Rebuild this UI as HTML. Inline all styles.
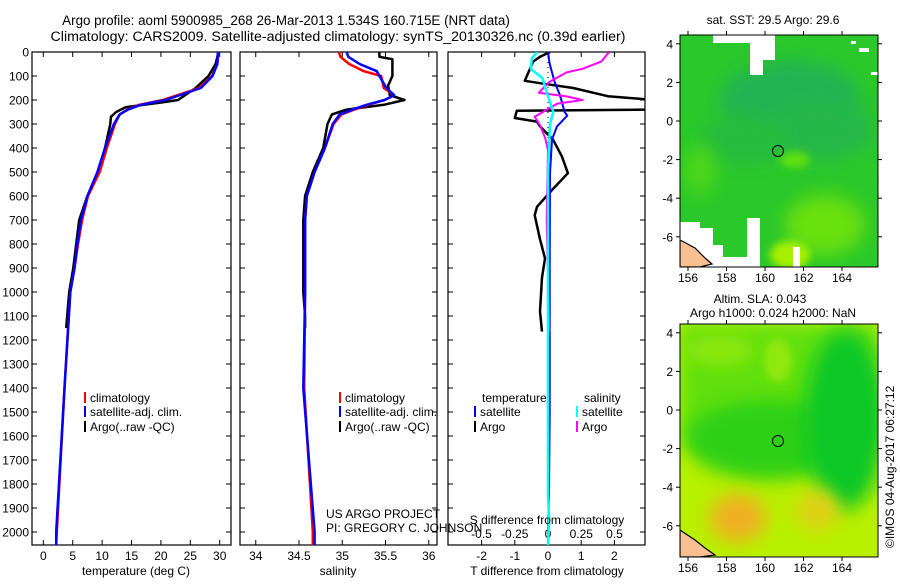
<!DOCTYPE html>
<html><head><meta charset="utf-8"><style>
html,body{margin:0;padding:0;background:#fff;}
svg text{font-family:"Liberation Sans",sans-serif;fill:#000;}
</style></head><body>
<svg id="s" width="900" height="580" viewBox="0 0 900 580" xmlns="http://www.w3.org/2000/svg">
<defs>
<filter id="bl" x="-50%" y="-50%" width="200%" height="200%"><feGaussianBlur stdDeviation="9"/></filter>
<filter id="bl2" x="-50%" y="-50%" width="200%" height="200%"><feGaussianBlur stdDeviation="4"/></filter>
<clipPath id="c1"><rect x="32" y="52" width="199" height="493"/></clipPath>
<clipPath id="c2"><rect x="240" y="52" width="197" height="493"/></clipPath>
<clipPath id="c3"><rect x="448" y="52" width="197" height="493"/></clipPath>
<clipPath id="m1"><rect x="680" y="35" width="198" height="232"/></clipPath>
<clipPath id="m2"><rect x="680" y="324" width="198" height="233"/></clipPath>
</defs>
<text x="286" y="25" font-size="13.4" text-anchor="middle">Argo profile: aoml 5900985_268 26-Mar-2013 1.534S 160.715E (NRT data)</text>
<text x="338" y="41" font-size="14.2" text-anchor="middle">Climatology: CARS2009. Satellite-adjusted climatology: synTS_20130326.nc (0.39d earlier)</text>

<!-- maps -->
<g>
<g clip-path="url(#m1)">
<rect x="680" y="35" width="198" height="232" fill="#2ac82a"/>
<ellipse cx="790" cy="100" rx="70" ry="40" fill="#22b452" filter="url(#bl)"/>
<ellipse cx="820" cy="130" rx="55" ry="30" fill="#25b74a" filter="url(#bl)"/>
<ellipse cx="745" cy="140" rx="45" ry="25" fill="#28bb3e" filter="url(#bl)"/>
<ellipse cx="825" cy="225" rx="40" ry="30" fill="#6ae010" filter="url(#bl)"/>
<ellipse cx="790" cy="255" rx="20" ry="14" fill="#a8f000" filter="url(#bl2)"/>
<ellipse cx="700" cy="170" rx="15" ry="25" fill="#50d818" filter="url(#bl)"/>
<ellipse cx="795" cy="160" rx="15" ry="8" fill="#60e010" filter="url(#bl2)"/>
<path d="M713,35 H775 V60 H763 V75 H750 V43 H728 V43 H713Z" fill="#fff"/>
<rect x="851" y="41" width="5" height="3" fill="#fff"/><rect x="859" y="48" width="10" height="4" fill="#fff"/><rect x="871" y="72" width="7" height="3" fill="#fff"/>
<path d="M680,222 H700 V228 H713 V245 H723 V257 H750 V267 H680Z" fill="#fff"/>
<path d="M747,218 H760 V267 H747Z" fill="#fff"/>
<path d="M793,247 H800 V267 H793Z" fill="#fff"/>
<path d="M680,240 L695,248 L705,258 L712,264 L700,267 L680,267Z" fill="#f8c090" stroke="#000" stroke-width="1.2"/>
<circle cx="778" cy="151" r="5.5" fill="none" stroke="#000" stroke-width="1"/>
</g>
<rect x="680" y="35" width="198" height="232" fill="none" stroke="#000" stroke-width="1"/>
</g>
<g>
<g clip-path="url(#m2)">
<rect x="680" y="324" width="198" height="233" fill="#b8f000"/>
<rect x="680" y="324" width="198" height="120" fill="#60e010" filter="url(#bl)"/>
<ellipse cx="770" cy="440" rx="85" ry="40" fill="#2ed018" filter="url(#bl)"/>
<ellipse cx="845" cy="420" rx="40" ry="90" fill="#10c828" filter="url(#bl)"/>
<ellipse cx="778" cy="360" rx="14" ry="22" fill="#90e810" filter="url(#bl2)"/>
<ellipse cx="720" cy="350" rx="35" ry="15" fill="#90e810" filter="url(#bl)"/>
<ellipse cx="738" cy="518" rx="28" ry="24" fill="#f0b020" filter="url(#bl)"/>
<ellipse cx="818" cy="510" rx="22" ry="20" fill="#e0d018" filter="url(#bl)"/>
<path d="M680,530 L695,540 L705,548 L715,555 L700,557 L680,557Z" fill="#f8c090" stroke="#000" stroke-width="1.2"/>
<circle cx="778" cy="441" r="5.5" fill="none" stroke="#000" stroke-width="1"/>
</g>
<rect x="680" y="324" width="198" height="233" fill="none" stroke="#000" stroke-width="1"/>
</g>
<text x="773" y="24" font-size="12" text-anchor="middle">sat. SST: 29.5 Argo: 29.6</text>
<text x="760" y="303" font-size="12" text-anchor="middle">Altim. SLA: 0.043</text>
<text x="773" y="317" font-size="12" text-anchor="middle">Argo h1000: 0.024 h2000: NaN</text>
<text transform="translate(894,548) rotate(-90)" font-size="12">©IMOS 04-Aug-2017 06:27:12</text>
<g id="maxes"></g>

<g id="p1"></g>
<g id="p2"></g>
<g id="p3"></g>

<text x="136" y="575" font-size="12" text-anchor="middle">temperature (deg C)</text>
<text x="338" y="575" font-size="12" text-anchor="middle">salinity</text>
<text x="547" y="575" font-size="12" text-anchor="middle">T difference from climatology</text>
<text x="547" y="524" font-size="12" text-anchor="middle">S difference from climatology</text>
<text x="326" y="518" font-size="12">US ARGO PROJECT</text>
<text x="326" y="532" font-size="12">PI: GREGORY C. JOHNSON</text>
</svg>
<script>
// depths & series
const tDepth=[0,50,100,150,200,220,240,260,300,400,500,600,700,800,900,1000,1400,2000,2054];
const tClim=[29.8,29.6,28.7,26.5,20.3,16.3,14.3,13.0,12.2,10.8,9.6,7.6,6.6,5.9,5.3,4.6,3.6,2.3,2.2];
const tSat=[29.7,29.6,28.8,26.8,20.8,16.6,14.4,13.0,12.0,10.5,9.2,7.5,6.4,5.8,5.3,4.6,3.6,2.2,2.2];
const aDepth=[0,50,100,150,200,210,230,250,270,300,400,450,500,550,600,700,800,900,1000,1150];
const tArgo=[29.8,29.3,28.1,25.9,22.9,20.2,14.0,12.4,11.5,11.4,10.5,10.0,9.3,8.5,7.5,6.1,5.6,5.1,4.4,3.9];
const sDepth=[0,20,50,80,100,150,180,200,220,240,260,300,400,500,600,700,1000,1400,2000,2054];
const sClim=[34.96,34.98,35.08,35.25,35.45,35.48,35.6,35.49,35.3,35.14,34.99,34.9,34.8,34.68,34.59,34.57,34.57,34.56,34.66,34.66];
const sSat=[35.05,35.07,35.2,35.4,35.43,35.51,35.6,35.49,35.28,35.12,34.97,34.89,34.8,34.68,34.59,34.57,34.57,34.55,34.68,34.68];
const sArgo=[35.43,35.43,35.58,35.58,35.58,35.53,35.55,35.72,35.48,35.05,34.88,34.83,34.78,34.66,34.57,34.55,34.55,34.55,34.57,34.57];
const sArgoDepth=[0,20,30,50,100,140,180,200,220,240,260,300,400,500,600,700,900,1000,1100,1150];
const dTDepth=[0,50,100,125,180,250,265,310,365,505,900,1500,1830,2054];
const dTSat=[0,0.05,0.15,0.2,0.36,0.5,0.58,0.27,0.12,0.06,0.05,0.05,0.03,0];
const dADepth=[0,20,40,120,130,150,184,200,240,245,275,290,310,365,435,505,575,645,680,780,860,940,1080,1165];
const dTArgo=[0.06,-0.24,-0.45,-0.7,-0.24,0.76,1.8,3.2,3.2,-0.94,-1.0,-0.33,-0.24,0.15,0.42,0.6,0.12,-0.33,-0.4,-0.24,-0.09,-0.18,-0.24,-0.18];
const dSADepth=[0,40,70,85,125,170,185,200,215,270,305,360,410,700,1165];
const dSArgo=[0.46,0.4,0.26,0.14,0.01,-0.07,0.14,0.26,0.07,-0.1,-0.06,-0.02,0.0,-0.01,0.01];
const dSSDepth=[0,25,70,110,150,250,300,500,1850,1950,2054];
const dSSat=[-0.08,-0.12,-0.13,-0.04,-0.02,0.04,0.015,0,0,0.01,0];
const depthTicks=[0,100,200,300,400,500,600,700,800,900,1000,1100,1200,1300,1400,1500,1600,1700,1800,1900,2000];
const tTicks=[0,5,10,15,20,25,30];
const sTicks=[34,34.5,35,35.5,36];
const sTickLabels=["34","34.5","35","35.5","36"];
const dTTicks=[-2,-1,0,1,2];
const dSTicks=[-0.5,-0.25,0,0.25,0.5];
const dSTickLabels=["-0.5","-0.25","0","0.25","0.5"];
const lonTicks=[156,158,160,162,164];
const latTicks=[4,2,0,-2,-4,-6];

const NS='http://www.w3.org/2000/svg';
function mk(p,tag,at){const e=document.createElementNS(NS,tag);for(const k in at)e.setAttribute(k,at[k]);p.appendChild(e);return e;}
const yD=d=>52+d*0.24;
const xT=v=>43.3+v*5.88;
const xS=v=>299+(v-34.5)*86.5;
const xDT=v=>548+v*33.2;
const xDS=v=>548+v*133;

function line(g,xs,ds,fx,col,w,clip,name){
  const pts=xs.map((v,i)=>fx(v).toFixed(1)+','+yD(ds[i]).toFixed(1)).join(' ');
  const e=mk(g,'polyline',{points:pts,fill:'none',stroke:col,'stroke-width':w,'clip-path':'url(#'+clip+')','stroke-linejoin':'round'});
  
  
}
function frame(g,x0,x1,ticks,fx,labels,leftLabels){
  mk(g,'rect',{x:x0,y:52,width:x1-x0,height:493,fill:'none',stroke:'#000','stroke-width':1.2});
  depthTicks.forEach(d=>{
    const y=yD(d);
    mk(g,'line',{x1:x0,y1:y,x2:x0+5,y2:y,stroke:'#000'});
    mk(g,'line',{x1:x1-5,y1:y,x2:x1,y2:y,stroke:'#000'});
    if(leftLabels){const t=mk(g,'text',{x:x0-3,y:y+4.5,'font-size':12,'text-anchor':'end'});t.textContent=d;
      
      }
  });
  ticks.forEach((v,i)=>{
    const x=fx(v);
    mk(g,'line',{x1:x,y1:545,x2:x,y2:540,stroke:'#000'});
    mk(g,'line',{x1:x,y1:52,x2:x,y2:57,stroke:'#000'});
    if(labels){const t=mk(g,'text',{x:x,y:560,'font-size':12,'text-anchor':'middle'});t.textContent=labels[i];
      
      }
  });
}
function legend(g,x,y,col,txt){
  mk(g,'rect',{x:x,y:y-10,width:2,height:11,fill:col});
  const t=mk(g,'text',{x:x+6,y:y,'font-size':12});t.textContent=txt;
  
  
}
const p1=document.getElementById('p1'),p2=document.getElementById('p2'),p3=document.getElementById('p3');
frame(p1,32,231,tTicks,xT,tTicks,true);
line(p1,tArgo,aDepth,xT,'#000',2.5,'c1','temperature-argo-line');
line(p1,tClim,tDepth,xT,'#f00',2.5,'c1','temperature-climatology-line');
line(p1,tSat,tDepth,xT,'#00f',2.5,'c1','temperature-satellite-line');
legend(p1,84,402,'#f00','climatology');legend(p1,84,416,'#00f','satellite-adj. clim.');legend(p1,84,431,'#000','Argo(..raw -QC)');

frame(p2,240,437,sTicks,xS,sTickLabels,false);
line(p2,sArgo,sArgoDepth,xS,'#000',2.5,'c2','salinity-argo-line');
line(p2,sClim,sDepth,xS,'#f00',2.5,'c2','salinity-climatology-line');
line(p2,sSat,sDepth,xS,'#00f',2.5,'c2','salinity-satellite-line');
legend(p2,339,402,'#f00','climatology');legend(p2,339,416,'#00f','satellite-adj. clim.');legend(p2,339,431,'#000','Argo(..raw -QC)');

frame(p3,448,645,dTTicks,xDT,dTTicks,false);
dSTicks.forEach((v,i)=>{const t=mk(p3,'text',{x:xDS(v),y:538,'font-size':12,'text-anchor':'middle'});t.textContent=dSTickLabels[i];
  
  });
mk(p3,'line',{x1:548,y1:52,x2:548,y2:545,stroke:'#000','stroke-dasharray':'1 4'});
line(p3,dTArgo,dADepth,xDT,'#000',2.5,'c3','t-diff-argo-line');
line(p3,dTSat,dTDepth,xDT,'#00f',2,'c3','t-diff-satellite-line');
line(p3,dSArgo,dSADepth,xDS,'#f0f',2,'c3','s-diff-argo-line');
line(p3,dSSat,dSSDepth,xDS,'#0ff',2.5,'c3','s-diff-satellite-line');
{const t=mk(p3,'text',{x:482,y:402,'font-size':12});t.textContent='temperature';
 
 
 const u=mk(p3,'text',{x:584,y:402,'font-size':12});u.textContent='salinity';
 
 }
legend(p3,474,416,'#00f','satellite');legend(p3,474,431,'#000','Argo');
legend(p3,576,416,'#0ff','satellite');legend(p3,576,431,'#f0f','Argo');

// map axes
const ma=document.getElementById('maxes');
[[35,267,121],[324,557,410]].forEach(([top,bot,y0],mi)=>{
  lonTicks.forEach(l=>{const x=688+(l-156)*19.25;
    mk(ma,'line',{x1:x,y1:bot,x2:x,y2:bot+4,stroke:'#000'});
    mk(ma,'line',{x1:x,y1:top,x2:x,y2:top-4,stroke:'#000'});
    const t=mk(ma,'text',{x:x,y:bot+15,'font-size':12,'text-anchor':'middle'});t.textContent=l;
    
    });
  latTicks.forEach(l=>{const y=y0-l*19.3;
    mk(ma,'line',{x1:676,y1:y,x2:680,y2:y,stroke:'#000'});
    mk(ma,'line',{x1:878,y1:y,x2:882,y2:y,stroke:'#000'});
    const t=mk(ma,'text',{x:673,y:y+4.5,'font-size':12,'text-anchor':'end'});t.textContent=l;
    
    });
});
</script>
</body></html>
